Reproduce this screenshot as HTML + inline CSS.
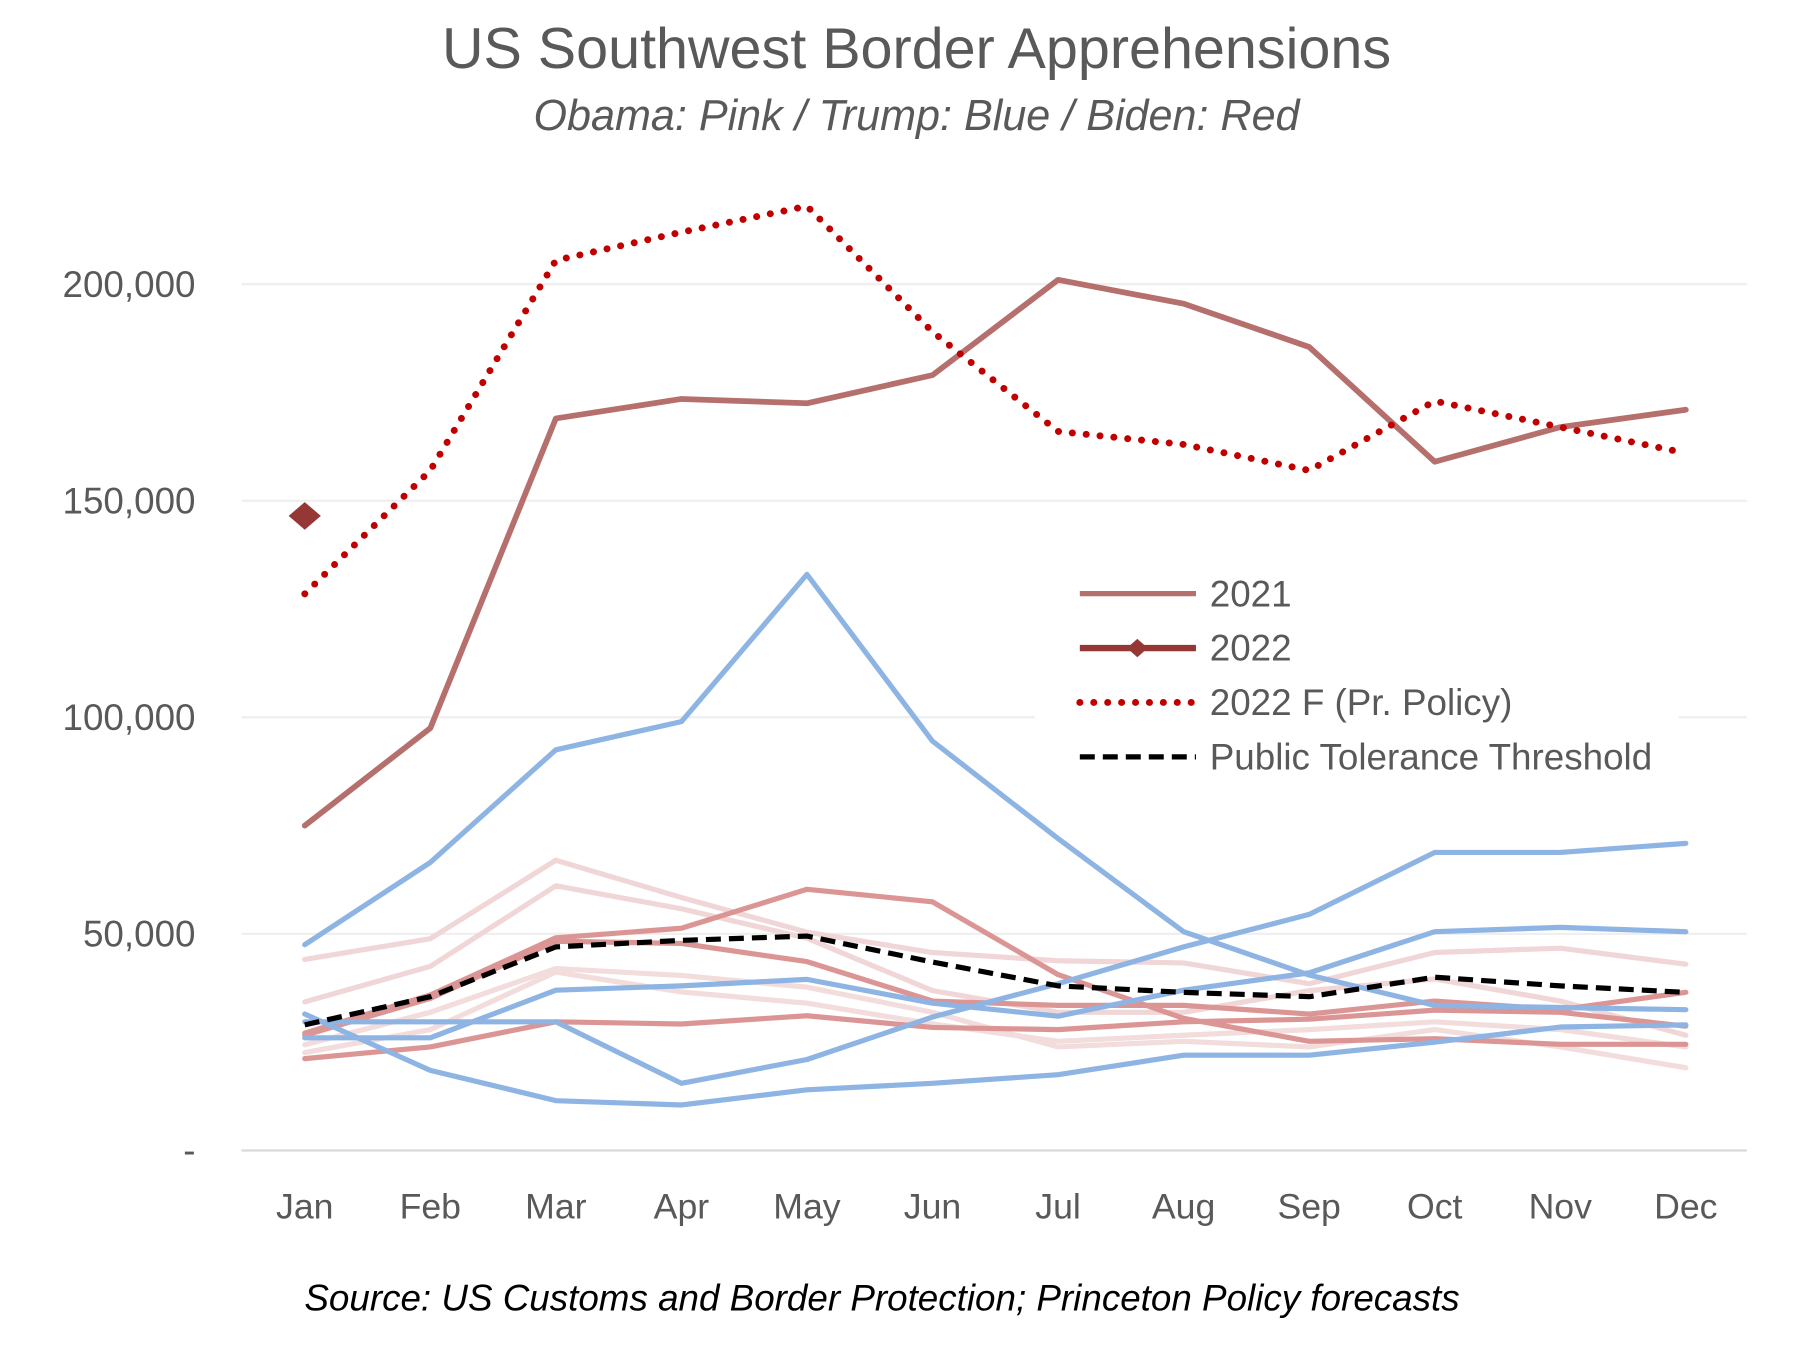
<!DOCTYPE html>
<html><head><meta charset="utf-8"><style>
html,body{margin:0;padding:0;background:#fff}
svg{display:block}
text{font-family:"Liberation Sans",sans-serif;fill:#595959}
</style></head><body>
<svg id="chart" width="1802" height="1361" viewBox="0 0 1567 1183" preserveAspectRatio="none" xmlns="http://www.w3.org/2000/svg">
<text x="797" y="59" text-anchor="middle" font-size="50">US Southwest Border Apprehensions</text>
<text x="797" y="113" text-anchor="middle" font-size="37.5" font-style="italic">Obama: Pink / Trump: Blue / Biden: Red</text>
<g id="grid"></g><g id="series"></g>
<g id="legend"></g>
<text x="767" y="1139" text-anchor="middle" font-size="32" font-style="italic" style="fill:#000">Source: US Customs and Border Protection; Princeton Policy forecasts</text>
</svg>
<script>
const months=["Jan","Feb","Mar","Apr","May","Jun","Jul","Aug","Sep","Oct","Nov","Dec"];
const yTicks=[0,50000,100000,150000,200000];
const yTickLabels=["-","50,000","100,000","150,000","200,000"];
const pinkA=[44.1,48.9,67,58.4,50.4,45.7,43.8,43.3,38.5,45.7,46.7,43];
const pinkB=[34.3,42.5,61.1,55.8,49,36.9,31.9,31.9,36.9,39.6,34.5,26.6];
const pinkC=[24.4,31.9,42,40.4,37.7,31.9,23.9,25.2,23.9,27.9,23.9,19.1];
const pinkD=[22.6,27.9,41.2,36.6,34,29.2,25.2,26.6,27.9,29.7,27.9,23.9];
const redA=[27.1,35.9,49.1,51.3,60.3,57.4,40.6,30.5,25.2,25.8,24.5,24.5];
const redB=[26.6,35.1,48.3,47.8,43.6,34.5,33.5,33.5,31.5,34.5,32.5,36.5];
const redC=[21.2,23.9,29.7,29.2,31.1,28.4,27.9,29.7,30.3,32.4,31.9,28.7];
const blue2017=[31.5,18.5,11.5,10.5,14,15.5,17.5,22,22,25,28.5,29];
const blue2018=[26,26,37,38,39.5,34,31,37,41,50.5,51.5,50.5];
const blue2019=[47.5,66.5,92.5,99,133,94.5,72,50.5,40.5,33.5,33,32.5];
const blue2020=[29.7,29.7,29.7,15.5,21,30.8,38.5,47,54.5,68.8,68.8,70.9];
const s2021=[75,97.5,169,173.5,172.5,179,201,195.5,185.5,159,167,171];
const s2022=[146.5];
const s2022F=[128.5,157,205.5,212,218,189,166,163,157,173,167,161];
const threshold=[29,35.5,47,48.5,49.5,43.5,38,36.5,35.5,40,38,36.5];

const NS="http://www.w3.org/2000/svg";
const x=i=>265+i*109.18;
const y=v=>1000-v*(753/200000);
const yk=v=>y(v*1000);
const grid=document.getElementById('grid');
function mk(tag,attrs,parent){const e=document.createElementNS(NS,tag);for(const k in attrs)e.setAttribute(k,attrs[k]);parent.appendChild(e);return e;}
yTicks.forEach((t,i)=>{
  if(t>0){const l=mk('line',{x1:210,x2:1519,y1:y(t),y2:y(t),stroke:'#efefef','stroke-width':2},grid);
  
  }
  const tx=mk('text',{x:170,y:y(t)+11,'text-anchor':'end','font-size':32},grid);
  tx.textContent=yTickLabels[i];
  
  
});
const ax=mk('line',{x1:210,x2:1519,y1:1000,y2:1000,stroke:'#d9d9d9','stroke-width':2},grid);


months.forEach((m,i)=>{
  const tx=mk('text',{x:x(i),y:1059,'text-anchor':'middle','font-size':31},grid);
  tx.textContent=m;
  
  
});
const sg=document.getElementById('series');
function line(data,color,w,name,dash,cap){
  const p=mk('polyline',{points:data.map((v,i)=>x(i)+','+yk(v)).join(' '),fill:'none',stroke:color,'stroke-width':w,'stroke-linejoin':'round','stroke-linecap':cap||'round'},sg);
  if(dash)p.setAttribute('stroke-dasharray',dash);
  
  
}
line(pinkC,'#f2dcdc',4.5,'series-pink-c');
line(pinkD,'#f2dcdc',4.5,'series-pink-d');
line(pinkB,'#f0d6d6',4.5,'series-pink-b');
line(pinkA,'#f0d6d6',4.5,'series-pink-a');
line(redC,'#dc9595',4.5,'series-red-c');
line(redB,'#dc9595',4.5,'series-red-b');
line(redA,'#dc9595',4.5,'series-red-a');
line(blue2017,'#8db4e2',4.5,'series-2017');
line(blue2018,'#8db4e2',4.5,'series-2018');
line(blue2020,'#8db4e2',4.5,'series-2020');
line(blue2019,'#8db4e2',4.5,'series-2019');
line(threshold,'#000',4.5,'series-threshold','13 7','butt');
line(s2021,'#b5706e',5,'series-2021');
line(s2022F,'#c00000',6,'series-2022-forecast','0.1 12','round');
s2022.forEach((v,i)=>{
  const cx=x(i),cy=yk(v);
  const d=mk('polygon',{points:`${cx-14},${cy} ${cx},${cy-12} ${cx+14},${cy} ${cx},${cy+12}`,fill:'#953735'},sg);
  
  
});
const lg=document.getElementById('legend');
mk('rect',{x:900,y:490,width:560,height:190,fill:'#fff'},lg);
const items=[['2021','#b5706e',null],['2022','#953735',null],['2022 F (Pr. Policy)','#c00000','0.1 12'],['Public Tolerance Threshold','#000','13 7']];
items.forEach((it,i)=>{
  const ly=516+i*47.3;
  const l=mk('line',{x1:939,x2:1040,y1:ly,y2:ly,stroke:it[1],'stroke-width':i==1?5.5:(i==2?6:4.5),'stroke-linecap':i==2?'round':'butt'},lg);
  if(it[2])l.setAttribute('stroke-dasharray',it[2]);
  
  
  if(i==1){const d=mk('polygon',{points:`980,${ly} 989,${ly-8} 998,${ly} 989,${ly+8}`,fill:'#953735'},lg);
    
    }
  const t=mk('text',{x:1052,y:ly+11,'font-size':32},lg);
  t.textContent=it[0];
  
  
});
</script>
</body></html>
